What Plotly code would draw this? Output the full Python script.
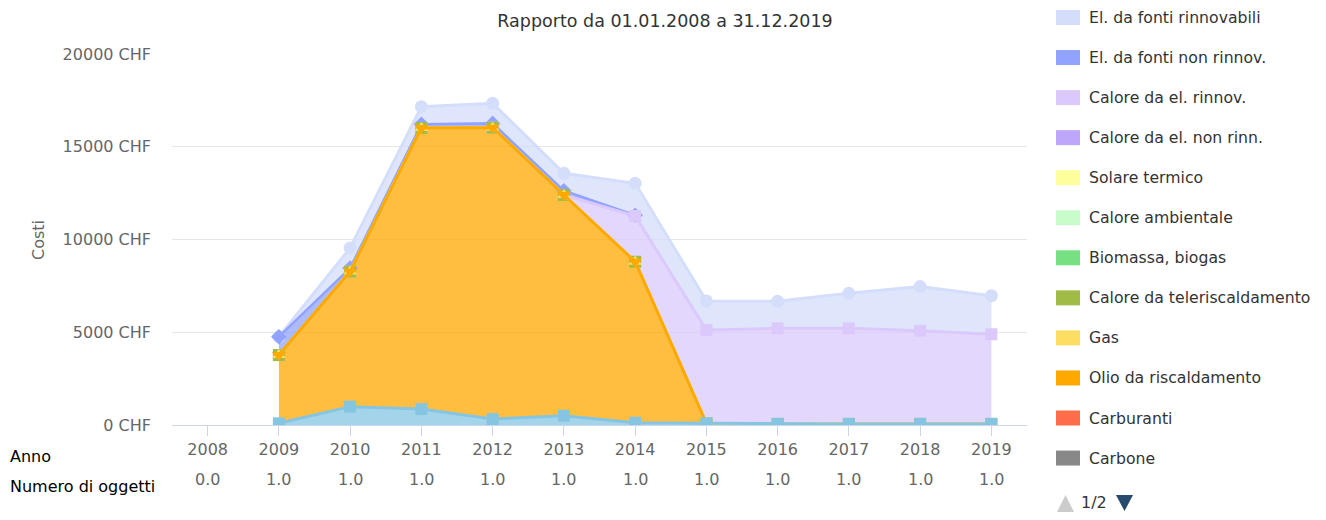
import numpy as np
import plotly.graph_objects as go

# ---------------- data ----------------
years = [2008, 2009, 2010, 2011, 2012, 2013, 2014, 2015, 2016, 2017, 2018, 2019]
n_oggetti = [0.0, 1.0, 1.0, 1.0, 1.0, 1.0, 1.0, 1.0, 1.0, 1.0, 1.0, 1.0]
y_ticks = [0, 5000, 10000, 15000, 20000]

N = None
el_rinnovabili = [N, 0, 1080, 950, 1080, 940, 1720, 1570, 1460, 1890, 2380, 2080]
el_non_rinnov = [N, 990, 190, 200, 230, 230, 40, N, N, N, N, N]
calore_el_rinnov = [N, 0, 0, 0, 0, 0, 2470, 5030, 5150, 5150, 5020, 4830]
calore_el_non_rinn = [N] * 12
solare_termico = [N] * 12
calore_ambientale = [N] * 12
biomassa_biogas = [N] * 12
teleriscaldamento = [N, 0, 0, 0, 0, 0, 0, 0, 0, 0, 0, 0]
gas = [N, 0, 0, 0, 0, 0, 0, 0, 0, 0, 0, 0]
olio = [N, 3680, 7280, 15150, 15710, 11900, 8675, 0, N, N, N, N]
carburanti = [N] * 12
carbone = [N] * 12
acqua = [N, 90, 990, 860, 320, 500, 125, 90, 60, 60, 60, 60]

# legend order (top of stack first), as in the reference
series = [
    ("El. da fonti rinnovabili", el_rinnovabili, "#d4defb", "circle", True),
    ("El. da fonti non rinnov.", el_non_rinnov, "#91a3fe", "diamond", True),
    ("Calore da el. rinnov.", calore_el_rinnov, "#dbc9fc", "square", True),
    ("Calore da el. non rinn.", calore_el_non_rinn, "#bda7fb", "triangle-up", True),
    ("Solare termico", solare_termico, "#fefe9d", "triangle-down", True),
    ("Calore ambientale", calore_ambientale, "#c8fcca", "circle", True),
    ("Biomassa, biogas", biomassa_biogas, "#76e083", "diamond", True),
    ("Calore da teleriscaldamento", teleriscaldamento, "#a1bb47", "square", True),
    ("Gas", gas, "#fedd63", "triangle-up", True),
    ("Olio da riscaldamento", olio, "#ffa800", "triangle-down", True),
    ("Carburanti", carburanti, "#ff6d4b", "circle", True),
    ("Carbone", carbone, "#888888", "diamond", True),
    ("Acqua", acqua, "#86c5e2", "square", False),
]

# ---------------- layout geometry ----------------
OFF = 8                      # page body margin
PAGE_W, PAGE_H = 1326, 520
W, H = PAGE_W - OFF, PAGE_H - OFF
L, R, T, B = 172, 299, 54, 95   # in page pixels
PW, PH = PAGE_W - L - R, PAGE_H - T - B
FONT = "DejaVu Sans"


def px(x):
    return (x - L) / PW


def py(y):
    return (PAGE_H - B - y) / PH


def rgba(hexc, a):
    h = hexc.lstrip("#")
    r, g, b = int(h[0:2], 16), int(h[2:4], 16), int(h[4:6], 16)
    return f"rgba({r},{g},{b},{a})"


fig = go.Figure()

# columns that hold any data
data_idx = [i for i in range(len(years)) if any(s[1][i] is not None for s in series)]
yrs_data = [years[i] for i in data_idx]

# stacked fills (bottom series first for plotly stacking)
stack_order = list(reversed(series))
for name, vals, col, sym, inleg in stack_order:
    v = [0 if vals[i] is None else vals[i] for i in data_idx]
    has = any(x is not None for x in vals)
    fig.add_trace(go.Scatter(
        x=yrs_data, y=v, stackgroup="one", mode="none",
        fillcolor=rgba(col, 0.75) if has else "rgba(0,0,0,0)",
        name=name, showlegend=False, hoverinfo="skip",
    ))

# cumulative tops for lines and markers
arrs = {name: np.array([np.nan if x is None else x for x in vals], dtype=float)
        for name, vals, _, _, _ in series}
cum = np.zeros(len(years))
tops = {}
for name, vals, col, sym, inleg in stack_order:
    a = arrs[name]
    cum = cum + np.nan_to_num(a)
    tops[name] = np.where(np.isnan(a), np.nan, cum)

# lines + markers, drawn in Highcharts order (series 0 first, last series on top)
for name, vals, col, sym, inleg in series:
    t = tops[name]
    if np.all(np.isnan(t)):
        continue
    size = 13 if sym == "circle" else 12
    fig.add_trace(go.Scatter(
        x=years, y=[None if np.isnan(z) else float(z) for z in t],
        mode="lines+markers",
        line=dict(color=col, width=3 if name != "El. da fonti non rinnov." else 2.5),
        marker=dict(symbol=sym, size=size, color=col, line=dict(width=0)),
        name=name, showlegend=False, connectgaps=False,
    ))

# ---------------- annotations / legend ----------------
annotations = []
shapes = []

# second row of x labels: number of objects
for yr, cnt in zip(years, n_oggetti):
    annotations.append(dict(
        x=yr, y=0, xref="x", yref="paper", yanchor="middle", yshift=-54,
        text=f"{cnt:.1f}", showarrow=False,
        font=dict(family=FONT, size=16, color="#666666"),
    ))

annotations.append(dict(x=px(8), y=py(456), xref="paper", yref="paper",
                        xanchor="left", yanchor="middle", text="Anno", showarrow=False,
                        font=dict(family=FONT, size=16, color="#000000")))
annotations.append(dict(x=px(8), y=py(486), xref="paper", yref="paper",
                        xanchor="left", yanchor="middle", text="Numero di oggetti",
                        showarrow=False, font=dict(family=FONT, size=16, color="#000000")))
annotations.append(dict(x=px(38), y=py(240), xref="paper", yref="paper",
                        xanchor="center", yanchor="middle", text="Costi", textangle=-90,
                        showarrow=False, font=dict(family=FONT, size=16, color="#666666")))

# manual legend (page 1 of 2)
leg_items = [s for s in series if s[4]]
for i, (name, vals, col, sym, inleg) in enumerate(leg_items):
    yc = 17.5 + 40.05 * i
    shapes.append(dict(type="rect", xref="paper", yref="paper",
                       x0=px(1056), x1=px(1080), y0=py(yc + 7.5), y1=py(yc - 7.5),
                       fillcolor=col, line=dict(width=0)))
    annotations.append(dict(x=px(1088), y=py(yc), xref="paper", yref="paper",
                            xanchor="left", yanchor="middle", text=name, showarrow=False,
                            borderpad=0,
                            font=dict(family=FONT, size=15.7, color="#333333")))

# pagination
shapes.append(dict(type="path", xref="paper", yref="paper",
                   path=f"M {px(1057)} {py(512)} L {px(1074)} {py(512)} L {px(1065.5)} {py(495)} Z",
                   fillcolor="#cccccc", line=dict(width=0)))
shapes.append(dict(type="path", xref="paper", yref="paper",
                   path=f"M {px(1116)} {py(495)} L {px(1133)} {py(495)} L {px(1124.5)} {py(511)} Z",
                   fillcolor="#274b6d", line=dict(width=0)))
annotations.append(dict(x=px(1079), y=py(503), xref="paper", yref="paper",
                        xanchor="left", yanchor="middle", text="1/2", showarrow=False,
                        font=dict(family=FONT, size=16, color="#333333")))

fig.update_layout(
    width=W, height=H,
    margin=dict(l=L - OFF, r=R, t=T - OFF, b=B, pad=0),
    paper_bgcolor="white", plot_bgcolor="white",
    showlegend=False,
    font=dict(family=FONT, size=16, color="#666666"),
    title=dict(text="Rapporto da 01.01.2008 a 31.12.2019", x=(665 - OFF) / W, xref="container",
               xanchor="center", y=1 - (21 - OFF) / H, yref="container", yanchor="middle",
               font=dict(family=FONT, size=17.5, color="#333333")),
    xaxis=dict(range=[2007.5, 2019.5], tickvals=years, ticktext=[str(y) for y in years],
               showgrid=False, zeroline=False, showline=True, linecolor="#ccd6eb",
               linewidth=1, ticks="outside", ticklen=10, tickcolor="#ccd6eb",
               tickfont=dict(family=FONT, size=16, color="#666666")),
    yaxis=dict(range=[0, 20000], tickvals=y_ticks,
               ticktext=[f"{v} CHF" for v in y_ticks], showgrid=True, gridcolor="#e6e6e6",
               gridwidth=1, zeroline=False, showline=False, ticks="",
               ticklabelstandoff=20,
               tickfont=dict(family=FONT, size=16, color="#666666")),
    annotations=annotations, shapes=shapes,
    hovermode=False,
)

fig.write_html("out.html")
